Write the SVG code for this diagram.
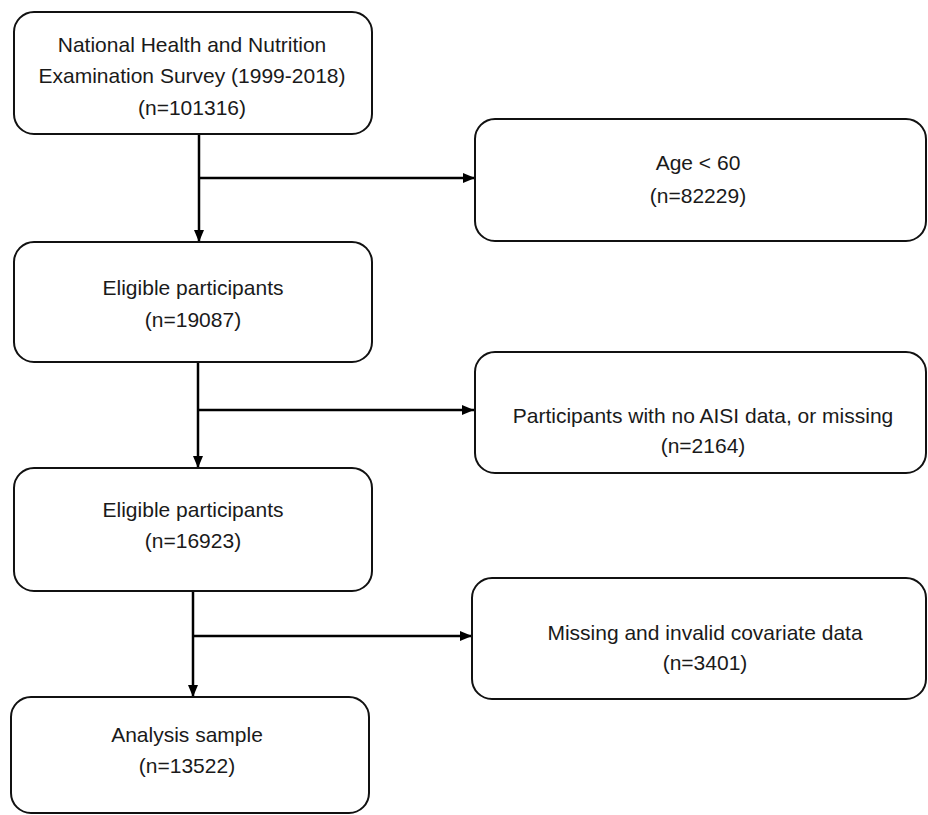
<svg xmlns="http://www.w3.org/2000/svg" width="928" height="815" viewBox="0 0 928 815">
<defs>
<style>
.box{fill:#fff;stroke:#111;stroke-width:2}
.t{font-family:"Liberation Sans",Arial,sans-serif;font-size:21px;fill:#1a1a1a;text-anchor:middle}
.c{stroke:#000;stroke-width:2.5;fill:none}
</style>
<marker id="ah" markerUnits="userSpaceOnUse" markerWidth="12" markerHeight="12" viewBox="0 0 12 12" refX="12" refY="6" orient="auto">
<path d="M0,1 L12,6 L0,11 Z" fill="#000"/>
</marker>
</defs>
<rect width="928" height="815" fill="#fff"/>
<g id="connectors">
<line class="c" x1="199" y1="134" x2="199" y2="242" marker-end="url(#ah)"/>
<line class="c" x1="199" y1="178" x2="475" y2="178" marker-end="url(#ah)"/>
<line class="c" x1="198" y1="362" x2="198" y2="468" marker-end="url(#ah)"/>
<line class="c" x1="198" y1="410" x2="474" y2="410" marker-end="url(#ah)"/>
<line class="c" x1="193" y1="591" x2="193" y2="697" marker-end="url(#ah)"/>
<line class="c" x1="193" y1="636" x2="472" y2="636" marker-end="url(#ah)"/>
</g>
<g id="n1">
<rect class="box" x="14" y="12" width="358" height="122" rx="20"/>
<text class="t" x="192" y="52">National Health and Nutrition</text>
<text class="t" x="192" y="83">Examination Survey (1999-2018)</text>
<text class="t" x="192" y="115">(n=101316)</text>
</g>
<g id="n2">
<rect class="box" x="475" y="119" width="451" height="122" rx="20"/>
<text class="t" x="698" y="170">Age &lt; 60</text>
<text class="t" x="698" y="203">(n=82229)</text>
</g>
<g id="n3">
<rect class="box" x="14" y="242" width="358" height="120" rx="20"/>
<text class="t" x="193" y="295">Eligible participants</text>
<text class="t" x="193" y="327">(n=19087)</text>
</g>
<g id="n4">
<rect class="box" x="475" y="352" width="451" height="121" rx="20"/>
<text class="t" x="703" y="423">Participants with no AISI data, or missing</text>
<text class="t" x="703" y="453">(n=2164)</text>
</g>
<g id="n5">
<rect class="box" x="14" y="468" width="358" height="123" rx="20"/>
<text class="t" x="193" y="517">Eligible participants</text>
<text class="t" x="193" y="548">(n=16923)</text>
</g>
<g id="n6">
<rect class="box" x="472" y="578" width="454" height="121" rx="20"/>
<text class="t" x="705" y="640">Missing and invalid covariate data</text>
<text class="t" x="705" y="670">(n=3401)</text>
</g>
<g id="n7">
<rect class="box" x="11" y="697" width="358" height="116" rx="20"/>
<text class="t" x="187" y="742">Analysis sample</text>
<text class="t" x="187" y="773">(n=13522)</text>
</g>
</svg>
